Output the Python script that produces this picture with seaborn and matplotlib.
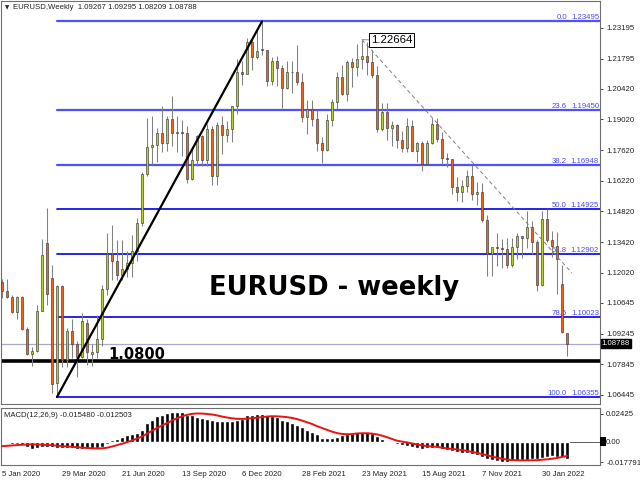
import numpy as np
import pandas as pd
import seaborn as sns
import matplotlib
matplotlib.use('Agg')
import matplotlib.pyplot as plt
import matplotlib.transforms as mtransforms
from matplotlib.patches import Rectangle

sns.set_style('white')
plt.rcParams['font.family'] = ['Liberation Sans', 'DejaVu Sans']

# weekly bars, 5 Jan 2020 .. 6 Mar 2022
week_start = pd.date_range('2020-01-05', periods=114, freq='7D')

opens = [1.1160, 1.1120, 1.1090, 1.1025, 1.1093, 1.0945, 1.0830, 1.0845, 1.1030, 1.1340,
         1.1180, 1.0700, 1.1140, 1.0803, 1.0935, 1.0875, 1.0820, 1.0975, 1.0830, 1.0840,
         1.0900, 1.1130, 1.1290, 1.1255, 1.1190, 1.1220, 1.1245, 1.1300, 1.1428, 1.1655,
         1.1778, 1.1785, 1.1840, 1.1795, 1.1905, 1.1840, 1.1845, 1.1840, 1.1632, 1.1715,
         1.1825, 1.1715, 1.1860, 1.1645, 1.1875, 1.1830, 1.1858, 1.1962, 1.2120, 1.2110,
         1.2255, 1.2185, 1.2225, 1.2218, 1.2078, 1.2170, 1.2135, 1.2045, 1.2118, 1.2120,
         1.2075, 1.1915, 1.1952, 1.1905, 1.1795, 1.1763, 1.1900, 1.1980, 1.2095, 1.2020,
         1.2165, 1.2140, 1.2180, 1.2190, 1.2165, 1.2105, 1.1860, 1.1935, 1.1865, 1.1875,
         1.1810, 1.1770, 1.1870, 1.1760, 1.1795, 1.1700, 1.1795, 1.1880, 1.1812, 1.1727,
         1.1720, 1.1595, 1.1570, 1.1600, 1.1645, 1.1560, 1.1570, 1.1445, 1.1290, 1.1320,
         1.1315, 1.1312, 1.1240, 1.1320, 1.1370, 1.1360, 1.1410, 1.1345, 1.1145, 1.1450,
         1.1350, 1.1325, 1.1150, 1.09267]
highs = [1.1172, 1.1173, 1.1100, 1.1097, 1.1095, 1.0955, 1.0863, 1.1054, 1.1355, 1.1496,
         1.1236, 1.1147, 1.1148, 1.0952, 1.0990, 1.0890, 1.1020, 1.0990, 1.0875, 1.1010,
         1.1145, 1.1384, 1.1422, 1.1350, 1.1350, 1.1300, 1.1375, 1.1452, 1.1660, 1.1908,
         1.1916, 1.1865, 1.1965, 1.1917, 1.2011, 1.1917, 1.1900, 1.1872, 1.1770, 1.1830,
         1.1830, 1.1880, 1.1870, 1.1890, 1.1920, 1.1894, 1.1963, 1.2177, 1.2167, 1.2273,
         1.2274, 1.2310, 1.2349, 1.2220, 1.2189, 1.2190, 1.2150, 1.2170, 1.2170, 1.2243,
         1.2114, 1.1990, 1.1990, 1.1945, 1.1820, 1.1927, 1.1994, 1.2118, 1.2150, 1.2173,
         1.2181, 1.2245, 1.2266, 1.2254, 1.2218, 1.2145, 1.1975, 1.1975, 1.1894, 1.1880,
         1.1850, 1.1909, 1.1900, 1.1800, 1.1806, 1.1810, 1.1910, 1.1909, 1.1845, 1.1750,
         1.1720, 1.1640, 1.1624, 1.1670, 1.1692, 1.1615, 1.1610, 1.1465, 1.1300, 1.1383,
         1.1355, 1.1360, 1.1360, 1.1386, 1.1370, 1.1482, 1.1440, 1.1350, 1.1484, 1.1495,
         1.1395, 1.1390, 1.1240, 1.09295]
lows = [1.1086, 1.1086, 1.1018, 1.0993, 1.0940, 1.0827, 1.0778, 1.0840, 1.1030, 1.1055,
        1.0654, 1.0636, 1.0770, 1.0770, 1.0815, 1.0727, 1.0815, 1.0780, 1.0775, 1.0815,
        1.0870, 1.1100, 1.1168, 1.1168, 1.1168, 1.1185, 1.1185, 1.1255, 1.1415, 1.1642,
        1.1697, 1.1710, 1.1753, 1.1757, 1.1780, 1.1753, 1.1737, 1.1612, 1.1627, 1.1688,
        1.1688, 1.1690, 1.1603, 1.1602, 1.1745, 1.1800, 1.1800, 1.1925, 1.2058, 1.2110,
        1.2130, 1.2180, 1.2195, 1.2054, 1.2060, 1.2056, 1.1953, 1.2040, 1.2025, 1.2060,
        1.1890, 1.1835, 1.1870, 1.1760, 1.1704, 1.1760, 1.1870, 1.1950, 1.2015, 1.1985,
        1.2052, 1.2102, 1.2133, 1.2104, 1.2093, 1.1847, 1.1848, 1.1807, 1.1780, 1.1772,
        1.1752, 1.1755, 1.1760, 1.1706, 1.1665, 1.1697, 1.1790, 1.1800, 1.1700, 1.1685,
        1.1563, 1.1529, 1.1524, 1.1570, 1.1535, 1.1513, 1.1432, 1.1186, 1.1186, 1.1235,
        1.1225, 1.1222, 1.1230, 1.1265, 1.1272, 1.1314, 1.1290, 1.1121, 1.1140, 1.1344,
        1.1275, 1.1106, 1.0929, 1.08209]
closes = [1.1120, 1.1090, 1.1025, 1.1093, 1.0945, 1.0830, 1.0847, 1.1026, 1.1284, 1.1107,
          1.0696, 1.1140, 1.0803, 1.0935, 1.0875, 1.0820, 1.0980, 1.0840, 1.0840, 1.0900,
          1.1130, 1.1290, 1.1255, 1.1190, 1.1220, 1.1245, 1.1300, 1.1428, 1.1655, 1.1778,
          1.1785, 1.1840, 1.1795, 1.1905, 1.1840, 1.1845, 1.1840, 1.1632, 1.1715, 1.1825,
          1.1715, 1.1860, 1.1645, 1.1875, 1.1830, 1.1858, 1.1962, 1.2120, 1.2110, 1.2255,
          1.2185, 1.2215, 1.2218, 1.2078, 1.2170, 1.2135, 1.2045, 1.2118, 1.2120, 1.2075,
          1.1915, 1.1952, 1.1905, 1.1795, 1.1763, 1.1900, 1.1980, 1.2095, 1.2020, 1.2165,
          1.2140, 1.2180, 1.2190, 1.2165, 1.2105, 1.1860, 1.1935, 1.1865, 1.1875, 1.1810,
          1.1770, 1.1870, 1.1760, 1.1795, 1.1700, 1.1795, 1.1880, 1.1812, 1.1727, 1.1720,
          1.1595, 1.1570, 1.1600, 1.1645, 1.1560, 1.1570, 1.1445, 1.1290, 1.1320, 1.1315,
          1.1312, 1.1240, 1.1320, 1.1370, 1.1360, 1.1410, 1.1345, 1.1145, 1.1450, 1.1350,
          1.1325, 1.1265, 1.0930, 1.08788]

macd_main = [-0.0015, -0.0015, -0.0018, -0.0024, -0.0033, -0.0050, -0.0062, -0.0059, -0.0048, -0.0045,
             -0.0048, -0.0053, -0.0056, -0.0056, -0.0059, -0.0062, -0.0065, -0.0065, -0.0062, -0.0056,
             -0.0045, -0.0024, 0.0015, 0.0024, 0.0045, 0.0056, 0.0065, 0.0080, 0.0104, 0.0163,
             0.0193, 0.0223, 0.0238, 0.0252, 0.0261, 0.0261, 0.0261, 0.0238, 0.0232, 0.0217,
             0.0208, 0.0202, 0.0193, 0.0184, 0.0178, 0.0178, 0.0178, 0.0187, 0.0202, 0.0232,
             0.0238, 0.0244, 0.0244, 0.0238, 0.0223, 0.0214, 0.0193, 0.0184, 0.0163, 0.0149,
             0.0128, 0.0104, 0.0083, 0.0065, 0.0036, 0.0030, 0.0033, 0.0045, 0.0056, 0.0065,
             0.0074, 0.0083, 0.0089, 0.0083, 0.0074, 0.0053, 0.0024, 0.0003, -0.0015, -0.0024,
             -0.0030, -0.0036, -0.0045, -0.0059, -0.0065, -0.0053, -0.0053, -0.0059, -0.0068, -0.0074,
             -0.0080, -0.0089, -0.0095, -0.0098, -0.0104, -0.0113, -0.0134, -0.0149, -0.0163, -0.0172,
             -0.0178, -0.0178, -0.0172, -0.0172, -0.0163, -0.0163, -0.0154, -0.0149, -0.0143, -0.0134,
             -0.0128, -0.0134, -0.0134, -0.0155]
macd_signal = [-0.0039, -0.0036, -0.0033, -0.0030, -0.0027, -0.0025, -0.0024, -0.0025, -0.0027, -0.0029,
               -0.0031, -0.0034, -0.0038, -0.0041, -0.0045, -0.0048, -0.0052, -0.0055, -0.0058, -0.0059,
               -0.0058, -0.0053, -0.0042, -0.0030, -0.0018, -0.0004, 0.0010, 0.0027, 0.0045, 0.0070,
               0.0095, 0.0120, 0.0142, 0.0163, 0.0185, 0.0205, 0.0222, 0.0235, 0.0244, 0.0247,
               0.0246, 0.0243, 0.0238, 0.0230, 0.0220, 0.0212, 0.0205, 0.0200, 0.0199, 0.0202,
               0.0206, 0.0210, 0.0215, 0.0220, 0.0223, 0.0222, 0.0219, 0.0215, 0.0208, 0.0198,
               0.0185, 0.0170, 0.0155, 0.0136, 0.0120, 0.0104, 0.0088, 0.0075, 0.0068, 0.0065,
               0.0067, 0.0072, 0.0074, 0.0074, 0.0071, 0.0064, 0.0053, 0.0039, 0.0024, 0.0009,
               0.0001, -0.0006, -0.0015, -0.0024, -0.0032, -0.0039, -0.0042, -0.0045, -0.0052, -0.0059,
               -0.0063, -0.0068, -0.0074, -0.0080, -0.0089, -0.0098, -0.0108, -0.0119, -0.0130, -0.0140,
               -0.0149, -0.0157, -0.0161, -0.0163, -0.0164, -0.0163, -0.0163, -0.0162, -0.0158, -0.0154,
               -0.0149, -0.0143, -0.0134, -0.0125]

fib_levels = ['0.0', '23.6', '38.2', '50.0', '61.8', '78.6', '100.0']
fib_prices = [1.23495, 1.19450, 1.16948, 1.14925, 1.12902, 1.10023, 1.06355]

price_ticks = [1.23195, 1.21795, 1.20420, 1.19020, 1.17620, 1.16220, 1.14820,
               1.13420, 1.12020, 1.10645, 1.09245, 1.07845, 1.06445]
date_labels = ['5 Jan 2020', '29 Mar 2020', '21 Jun 2020', '13 Sep 2020', '6 Dec 2020',
               '28 Feb 2021', '23 May 2021', '15 Aug 2021', '7 Nov 2021', '30 Jan 2022']
macd_ticks = [0.02425, 0.0, -0.017791]
macd_tick_labels = ['0.02425', '0.00', '-0.017791']

support = 1.0800
last_price = 1.08788
swing_high = 1.22664

df = pd.DataFrame({'week': week_start, 'open': opens, 'high': highs,
                   'low': lows, 'close': closes,
                   'macd': macd_main, 'signal': macd_signal})
df['i'] = np.arange(len(df))
up = df['close'] >= df['open']

W, H = 640, 480
fig = plt.figure(figsize=(6.4, 4.8), dpi=100)
ax = fig.add_axes([1 / W, 1 - 404 / H, 599 / W, 403 / H])
ax2 = fig.add_axes([1 / W, 1 - 465 / H, 599 / W, 57 / H])

small = 5.6
bull, bear = '#b8d12a', '#f0641e'

# fib retracement lines (from the March 2020 low to the right edge)
for k, (lev, p) in enumerate(zip(fib_levels, fib_prices)):
    col = '#5050ff' if k < 3 else '#1414e6'
    ax.plot([11, 119.6], [p, p], color=col, lw=1.6 if k < 3 else 1.3, zorder=1)
    ax.text(113.0, p, lev, ha='right', va='bottom', fontsize=small, color='#4a4aff', zorder=1)
    ax.text(119.4, p, f'{p:.5f}', ha='right', va='bottom', fontsize=small, color='#4a4aff', zorder=1)

ax.axhline(last_price, color='#a8a8d0', lw=0.9, zorder=1)
ax.axhline(support, color='black', lw=2.6, zorder=2)

# candles
ax.vlines(df['i'], df['low'], df['high'], color='#808080', lw=0.75, zorder=3)
body_lo = np.minimum(df['open'], df['close'])
body_h = np.maximum((df['close'] - df['open']).abs(), 0.00012)
ax.bar(df['i'], body_h, bottom=body_lo, width=0.5,
       color=np.where(up, bull, bear), edgecolor='#3a3a3a', linewidth=0.45, zorder=4)

# trend lines
sns.lineplot(x=[11, 52], y=[fib_prices[-1], fib_prices[0]], color='black', lw=1.6, ax=ax, zorder=5)
sns.lineplot(x=[72, 114], y=[swing_high, 1.1201], color='#808080', lw=0.7,
             linestyle=(0, (4, 3)), ax=ax, zorder=5)
ax.plot([72, 73.8], [swing_high, 1.2265], color='#808080', lw=0.6, zorder=5)
ax.text(73.8, 1.2265, f'{swing_high:.5f}', ha='left', va='center', fontsize=8.2, color='black',
        bbox=dict(boxstyle='square,pad=0.15', fc='white', ec='black', lw=0.7), zorder=6)

ax.text(21.2, 1.08088, f'{support:.4f}', ha='left', va='baseline', color='black',
        fontsize=10.5, fontweight='bold', family='DejaVu Sans', zorder=6)
ax.text(66.4, 1.11009, 'EURUSD - weekly', ha='center', va='baseline', color='black',
        fontsize=18.6, fontweight='bold', family='DejaVu Sans', zorder=6)

trans = mtransforms.blended_transform_factory(ax.transAxes, ax.transData)
ax.text(1.003, last_price, f'{last_price:.5f}', transform=trans, ha='left', va='center',
        fontsize=small, color='white',
        bbox=dict(boxstyle='square,pad=0.15', fc='black', ec='black'), zorder=7)

ax.set_xlim(-0.2, 119.6)
ax.set_ylim(1.06034, 1.24427)
ax.yaxis.tick_right()
ax.set_yticks(price_ticks)
ax.set_yticklabels([f'{t:.5f}' for t in price_ticks])
ax.tick_params(axis='y', labelsize=small, length=2.5, width=0.6, pad=2, colors='#222222')
ax.set_xticks([])
ax.set_xlabel('')
ax.set_ylabel('')

# MACD panel
sns.barplot(x=df['i'], y=df['macd'], native_scale=True, color='black', saturation=1,
            width=0.7, errorbar=None, ax=ax2, zorder=2)
ax2.axhline(0, color='#444444', lw=0.6, zorder=1)
sns.lineplot(x=df['i'], y=df['signal'], color='#ee1111', lw=1.4, ax=ax2, zorder=3)
ax2.set_xlim(-0.2, 119.6)
ax2.set_ylim(-0.0204, 0.0295)
ax2.yaxis.tick_right()
ax2.set_yticks(macd_ticks)
ax2.set_yticklabels(macd_tick_labels)
ax2.tick_params(axis='y', labelsize=small, length=2.5, width=0.6, pad=2, colors='#222222')
ax2.set_xticks(np.arange(0, 114, 12))
ax2.set_xticklabels(date_labels)
for lbl in ax2.get_xticklabels():
    lbl.set_ha('left')
ax2.tick_params(axis='x', labelsize=small, length=2.5, width=0.6, pad=1.5, colors='#222222')
ax2.set_xlabel('')
ax2.set_ylabel('')
ax2.text(0.005, 0.93, 'MACD(12,26,9) -0.015480 -0.012503', transform=ax2.transAxes,
         ha='left', va='top', fontsize=small, color='#222222', zorder=5)

for a in (ax, ax2):
    for s in a.spines.values():
        s.set_color('#6e6e6e')
        s.set_linewidth(0.8)

fig.patches.append(Rectangle((600 / W, 1 - 446 / H), 6 / W, 9 / H, transform=fig.transFigure,
                             fc='black', ec='none', figure=fig))
fig.text(5 / W, 1 - 7.5 / H, '▼', fontsize=4, va='center', family='DejaVu Sans')
fig.text(13 / W, 1 - 7.5 / H, 'EURUSD,Weekly  1.09267 1.09295 1.08209 1.08788',
         fontsize=small, va='center', color='#222222')

fig.savefig('out.png', dpi=100, facecolor='white')
